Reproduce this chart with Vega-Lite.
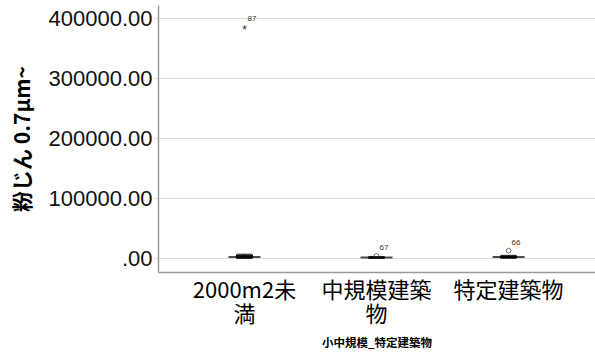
{
  "$schema": "https://vega.github.io/schema/vega-lite/v6.json",
  "width": 437,
  "height": 267,
  "autosize": "none",
  "padding": {"left": 158, "top": 5, "right": 0, "bottom": 86},
  "background": "white",
  "config": {"view": {"stroke": null}},
  "datasets": {
    "boxes": [
      {"group": "2000m2未満", "min": 0, "q1": 500, "median": 2000, "q3": 5500, "max": 7000},
      {"group": "中規模建築物", "min": 0, "q1": 500, "median": 1200, "q3": 2000, "max": 3000},
      {"group": "特定建築物", "min": 0, "q1": 800, "median": 2000, "q3": 4000, "max": 5000}
    ],
    "outliers": [
      {"group": "2000m2未満", "value": 386000, "id": "87", "kind": "extreme"},
      {"group": "中規模建築物", "value": 4000, "id": "67", "kind": "outlier"},
      {"group": "特定建築物", "value": 12800, "id": "66", "kind": "outlier"}
    ]
  },
  "encoding": {
    "x": {
      "field": "group",
      "type": "nominal",
      "sort": ["2000m2未満", "中規模建築物", "特定建築物"],
      "scale": {"domain": ["2000m2未満", "中規模建築物", "特定建築物"], "paddingInner": 0, "paddingOuter": 0.155},
      "axis": {
        "title": "小中規模_特定建築物",
        "titleFont": "Noto Sans CJK JP",
        "titleFontSize": 11.5,
        "titleFontWeight": "bold",
        "titleColor": "#000",
        "titlePadding": 12,
        "labelAngle": 0,
        "labelFont": "Noto Sans CJK JP",
        "labelFontSize": 22,
        "labelColor": "#000",
        "labelLineHeight": 24,
        "labelPadding": 8,
        "labelExpr": "datum.value == '2000m2未満' ? ['2000m2未', '満'] : datum.value == '中規模建築物' ? ['中規模建築', '物'] : datum.value",
        "ticks": false,
        "domainColor": "#999",
        "domainWidth": 1.5,
        "grid": false
      }
    }
  },
  "layer": [
    {
      "data": {"name": "boxes"},
      "mark": {"type": "rule", "color": "#000", "strokeWidth": 1},
      "encoding": {
        "y": {
          "field": "min",
          "type": "quantitative",
          "scale": {"domain": [-22800, 422200], "nice": false, "zero": false},
          "axis": {
            "values": [0, 100000, 200000, 300000, 400000],
            "labelExpr": "datum.value == 0 ? '.00' : format(datum.value, '.2f')",
            "labelFont": "Liberation Sans",
            "labelFontSize": 22,
            "labelColor": "#111",
            "labelPadding": 2,
            "tickSize": 4,
            "tickColor": "#ddd",
            "gridColor": "#ddd",
            "gridWidth": 1,
            "domainColor": "#999",
            "domainWidth": 1.5,
            "title": "粉じん 0.7μm~",
            "titleFont": "Noto Sans CJK JP",
            "titleFontSize": 21,
            "titleFontWeight": "bold",
            "titleColor": "#000",
            "titlePadding": 15
          }
        },
        "y2": {"field": "max"}
      }
    },
    {
      "data": {"name": "boxes"},
      "mark": {"type": "bar", "size": 16, "fill": "#222", "stroke": "#000", "strokeWidth": 1},
      "encoding": {
        "y": {"field": "q1", "type": "quantitative"},
        "y2": {"field": "q3"}
      }
    },
    {
      "data": {"name": "boxes"},
      "mark": {"type": "tick", "size": 16, "thickness": 1, "color": "#000"},
      "encoding": {"y": {"field": "min", "type": "quantitative"}}
    },
    {
      "data": {"name": "boxes"},
      "mark": {"type": "tick", "size": 16, "thickness": 1, "color": "#000"},
      "encoding": {"y": {"field": "max", "type": "quantitative"}}
    },
    {
      "data": {"name": "boxes"},
      "mark": {"type": "tick", "size": 32, "thickness": 2, "color": "#000"},
      "encoding": {"y": {"field": "median", "type": "quantitative"}}
    },
    {
      "data": {"name": "outliers"},
      "transform": [{"filter": "datum.kind == 'outlier'"}],
      "mark": {"type": "point", "shape": "circle", "size": 22, "filled": false, "stroke": "#333", "strokeWidth": 1},
      "encoding": {"y": {"field": "value", "type": "quantitative"}}
    },
    {
      "data": {"name": "outliers"},
      "transform": [{"filter": "datum.kind == 'extreme'"}],
      "mark": {"type": "text", "text": "*", "font": "Liberation Sans", "fontSize": 12, "color": "#333", "baseline": "middle", "dy": 3},
      "encoding": {"y": {"field": "value", "type": "quantitative"}}
    },
    {
      "data": {"name": "outliers"},
      "mark": {"type": "text", "font": "Liberation Sans", "fontSize": 8, "color": "#333", "align": "left", "dx": 3, "dy": -8},
      "encoding": {
        "y": {"field": "value", "type": "quantitative"},
        "text": {"field": "id"}
      }
    }
  ]
}
